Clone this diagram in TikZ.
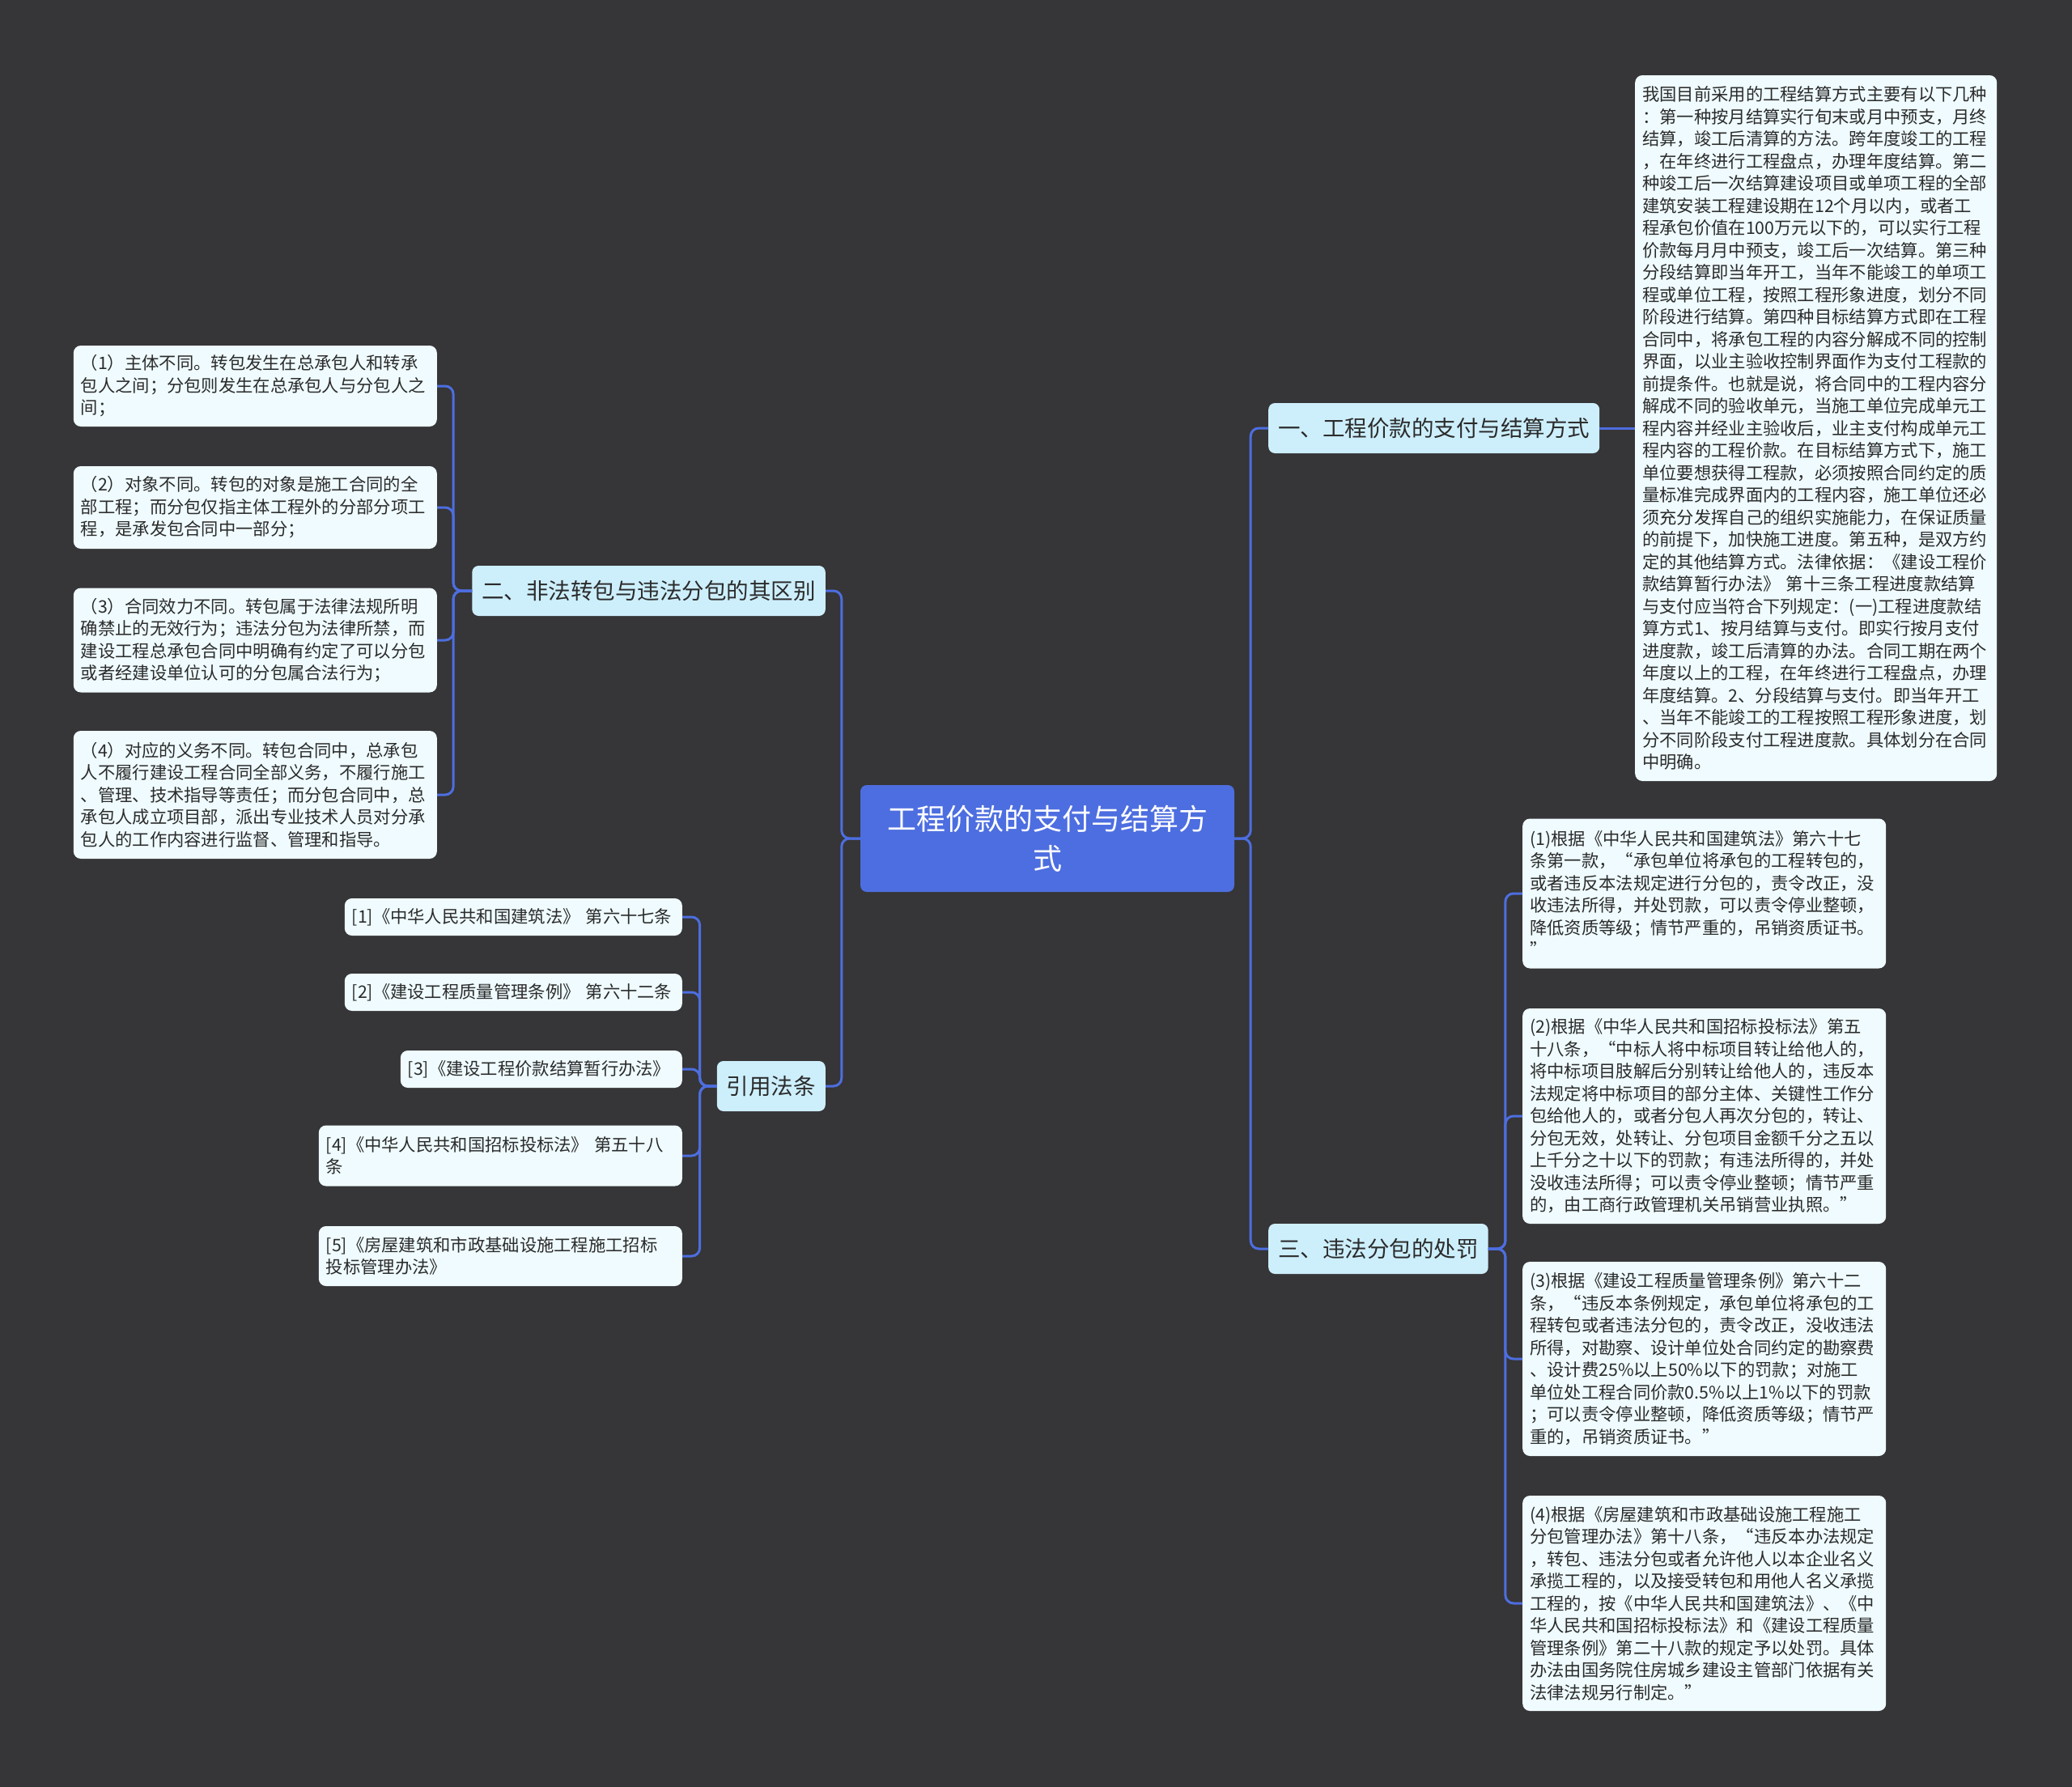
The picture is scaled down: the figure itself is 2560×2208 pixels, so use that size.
\documentclass[tikz,border=0pt]{standalone}
\usepackage{fontspec}
\setmainfont{Noto Sans CJK SC}
\usepackage{tikz}
\definecolor{bgdark}{HTML}{363537}
\definecolor{mainblue}{HTML}{4D6EE0}
\definecolor{topicfill}{HTML}{CDEFFC}
\definecolor{leaffill}{HTML}{EFFBFE}
\definecolor{textdark}{HTML}{2B2B2B}

\begin{document}
\begin{tikzpicture}[x=1pt, y=-1pt,
  mainbox/.style={fill=mainblue, text=white, rounded corners=8pt, minimum width=462pt, minimum height=132pt, text width=420pt, align=center, font=\fontsize{36}{49}\selectfont},
  topicbox/.style={fill=topicfill, text=textdark, rounded corners=8pt, minimum height=62pt, inner xsep=12pt, font=\fontsize{27.5}{33}\selectfont},
  leafbox/.style={fill=leaffill, text=textdark, rounded corners=9pt, inner xsep=9pt, inner ysep=4pt, text width=431pt, align=left, font=\fontsize{21.3}{27.5}\selectfont},
  linkline/.style={draw=mainblue, line width=3pt, rounded corners=10pt},]
\fill[bgdark] (0,0) rectangle (2560,2208);
\node[mainbox] (0) at (1294,1036) {工程价款的支付与结算方\\式};
\node[topicbox, anchor=west] (1) at (1567,529) {一、工程价款的支付与结算方式};
\node[topicbox, anchor=east] (2) at (1020,730) {二、非法转包与违法分包的其区别};
\node[topicbox, anchor=east] (3) at (1020,1342) {引用法条};
\node[topicbox, anchor=west] (4) at (1567,1543) {三、违法分包的处罚};
\node[leafbox, anchor=west, text width=429pt, minimum height=872pt] (11) at (2020,529) {我国目前采用的工程结算方式主要有以下几种\\：第一种按月结算实行旬末或月中预支，月终\\结算，竣工后清算的方法。跨年度竣工的工程\\，在年终进行工程盘点，办理年度结算。第二\\种竣工后一次结算建设项目或单项工程的全部\\建筑安装工程建设期在12个月以内，或者工\\程承包价值在100万元以下的，可以实行工程\\价款每月月中预支，竣工后一次结算。第三种\\分段结算即当年开工，当年不能竣工的单项工\\程或单位工程，按照工程形象进度，划分不同\\阶段进行结算。第四种目标结算方式即在工程\\合同中，将承包工程的内容分解成不同的控制\\界面，以业主验收控制界面作为支付工程款的\\前提条件。也就是说，将合同中的工程内容分\\解成不同的验收单元，当施工单位完成单元工\\程内容并经业主验收后，业主支付构成单元工\\程内容的工程价款。在目标结算方式下，施工\\单位要想获得工程款，必须按照合同约定的质\\量标准完成界面内的工程内容，施工单位还必\\须充分发挥自己的组织实施能力，在保证质量\\的前提下，加快施工进度。第五种，是双方约\\定的其他结算方式。法律依据：《建设工程价\\款结算暂行办法》 第十三条工程进度款结算\\与支付应当符合下列规定：(一)工程进度款结\\算方式1、按月结算与支付。即实行按月支付\\进度款，竣工后清算的办法。合同工期在两个\\年度以上的工程，在年终进行工程盘点，办理\\年度结算。2、分段结算与支付。即当年开工\\、当年不能竣工的工程按照工程形象进度，划\\分不同阶段支付工程进度款。具体划分在合同\\中明确。};
\node[leafbox, anchor=east, minimum height=100pt] (21) at (540,477) {（1）主体不同。转包发生在总承包人和转承\\包人之间；分包则发生在总承包人与分包人之\\间；};
\node[leafbox, anchor=east, minimum height=102pt] (22) at (540,627) {（2）对象不同。转包的对象是施工合同的全\\部工程；而分包仅指主体工程外的分部分项工\\程，是承发包合同中一部分；};
\node[leafbox, anchor=east, minimum height=129pt] (23) at (540,791) {（3）合同效力不同。转包属于法律法规所明\\确禁止的无效行为；违法分包为法律所禁，而\\建设工程总承包合同中明确有约定了可以分包\\或者经建设单位认可的分包属合法行为；};
\node[leafbox, anchor=east, minimum height=158pt] (24) at (540,982) {（4）对应的义务不同。转包合同中，总承包\\人不履行建设工程合同全部义务，不履行施工\\、管理、技术指导等责任；而分包合同中，总\\承包人成立项目部，派出专业技术人员对分承\\包人的工作内容进行监督、管理和指导。};
\node[leafbox, anchor=east, text width=399pt, minimum height=46pt] (31) at (843,1133) {[1]《中华人民共和国建筑法》 第六十七条};
\node[leafbox, anchor=east, text width=399pt, minimum height=46pt] (32) at (843,1226) {[2]《建设工程质量管理条例》 第六十二条};
\node[leafbox, anchor=east, text width=330pt, minimum height=46pt] (33) at (843,1321) {[3]《建设工程价款结算暂行办法》};
\node[leafbox, anchor=east, minimum height=75pt] (34) at (843,1428) {[4]《中华人民共和国招标投标法》 第五十八\\条};
\node[leafbox, anchor=east, minimum height=74pt] (35) at (843,1552) {[5]《房屋建筑和市政基础设施工程施工招标\\投标管理办法》};
\node[leafbox, anchor=west, minimum height=185pt] (41) at (1881,1104) {(1)根据《中华人民共和国建筑法》第六十七\\条第一款，“承包单位将承包的工程转包的，\\或者违反本法规定进行分包的，责令改正，没\\收违法所得，并处罚款，可以责令停业整顿，\\降低资质等级；情节严重的，吊销资质证书。\\”};
\node[leafbox, anchor=west, minimum height=266pt] (42) at (1881,1379) {(2)根据《中华人民共和国招标投标法》第五\\十八条，“中标人将中标项目转让给他人的，\\将中标项目肢解后分别转让给他人的，违反本\\法规定将中标项目的部分主体、关键性工作分\\包给他人的，或者分包人再次分包的，转让、\\分包无效，处转让、分包项目金额千分之五以\\上千分之十以下的罚款；有违法所得的，并处\\没收违法所得；可以责令停业整顿；情节严重\\的，由工商行政管理机关吊销营业执照。”};
\node[leafbox, anchor=west, minimum height=240pt] (43) at (1881,1679) {(3)根据《建设工程质量管理条例》第六十二\\条，“违反本条例规定，承包单位将承包的工\\程转包或者违法分包的，责令改正，没收违法\\所得，对勘察、设计单位处合同约定的勘察费\\、设计费25\%以上50\%以下的罚款；对施工\\单位处工程合同价款0.5\%以上1\%以下的罚款\\；可以责令停业整顿，降低资质等级；情节严\\重的，吊销资质证书。”};
\node[leafbox, anchor=west, minimum height=266pt] (44) at (1881,1981) {(4)根据《房屋建筑和市政基础设施工程施工\\分包管理办法》第十八条，“违反本办法规定\\，转包、违法分包或者允许他人以本企业名义\\承揽工程的，以及接受转包和用他人名义承揽\\工程的，按《中华人民共和国建筑法》、《中\\华人民共和国招标投标法》和《建设工程质量\\管理条例》第二十八款的规定予以处罚。具体\\办法由国务院住房城乡建设主管部门依据有关\\法律法规另行制定。”};
  \draw[linkline] (0.east) -- ++(20,0) |- (1.west);
  \draw[linkline] (0.east) -- ++(20,0) |- (4.west);
  \draw[linkline] (0.west) -- ++(-23,0) |- (2.east);
  \draw[linkline] (0.west) -- ++(-23,0) |- (3.east);
  \draw[linkline] (1.east) -- (11.west);
  \draw[linkline] (2.west) -- ++(-23,0) |- (21.east);
  \draw[linkline] (2.west) -- ++(-23,0) |- (22.east);
  \draw[linkline] (2.west) -- ++(-23,0) |- (23.east);
  \draw[linkline] (2.west) -- ++(-23,0) |- (24.east);
  \draw[linkline] (3.west) -- ++(-21,0) |- (31.east);
  \draw[linkline] (3.west) -- ++(-21,0) |- (32.east);
  \draw[linkline] (3.west) -- ++(-21,0) |- (33.east);
  \draw[linkline] (3.west) -- ++(-21,0) |- (34.east);
  \draw[linkline] (3.west) -- ++(-21,0) |- (35.east);
  \draw[linkline] (4.east) -- ++(21,0) |- (41.west);
  \draw[linkline] (4.east) -- ++(21,0) |- (42.west);
  \draw[linkline] (4.east) -- ++(21,0) |- (43.west);
  \draw[linkline] (4.east) -- ++(21,0) |- (44.west);
\end{tikzpicture}
\end{document}
